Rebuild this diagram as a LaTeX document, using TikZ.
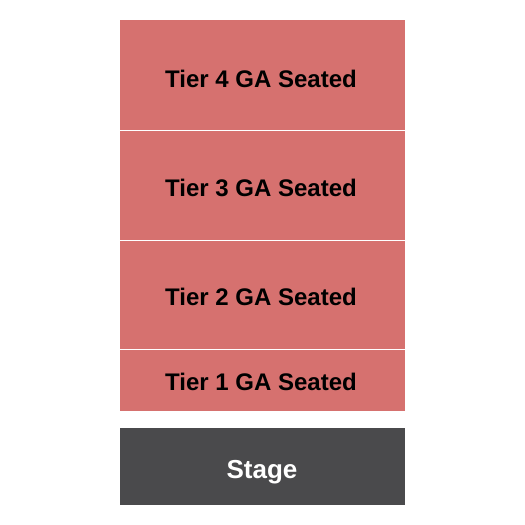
\documentclass[tikz,border=0pt]{standalone}
\usepackage{fontspec}
\setmainfont{Liberation Sans}
\definecolor{tierred}{HTML}{D6716F}
\definecolor{stagegray}{HTML}{4A4A4C}
\tikzset{
  tier/.style={fill=tierred},
  sep/.style={white, line width=0.8pt},
  lbl/.style={font=\fontsize{24}{28}\selectfont\bfseries, text=black},
}
\begin{document}
\begin{tikzpicture}[x=1pt,y=-1pt]
\useasboundingbox (0,0) rectangle (525,525);
\fill[white] (0,0) rectangle (525,525);
\fill[tier] (120,20) rectangle (405,410.5);
\draw[sep] (120,130.5) -- (405,130.5);
\draw[sep] (120,240.5) -- (405,240.5);
\draw[sep] (120,349.5) -- (405,349.5);
\fill[stagegray] (120,428) rectangle (405,505);
\node[lbl] (t4) at (261,79) {Tier 4 GA Seated};
\node[lbl] (t3) at (261,188) {Tier 3 GA Seated};
\node[lbl] (t2) at (261,297) {Tier 2 GA Seated};
\node[lbl] (t1) at (261,382) {Tier 1 GA Seated};
\node[lbl, font=\fontsize{26}{30}\selectfont\bfseries, text=white] (st) at (262,472) {Stage};
\end{tikzpicture}
\end{document}
